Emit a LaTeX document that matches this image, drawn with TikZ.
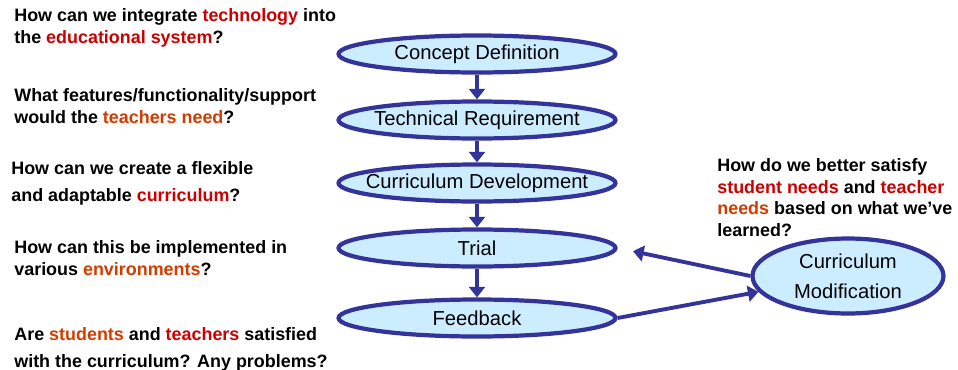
\documentclass[tikz,border=0pt]{standalone}
\usepackage{fontspec}
\setmainfont{Liberation Sans}
\usetikzlibrary{shapes.geometric, arrows.meta, positioning, calc}
\definecolor{stageblue}{RGB}{51, 51, 153}
\definecolor{stagefill}{RGB}{204, 236, 255}
\definecolor{hlred}{RGB}{204, 0, 0}
\definecolor{hlorange}{RGB}{210, 60, 0}
\newcommand{\stagelabel}[1]{\makebox[0pt]{#1}}

\begin{document}
\begin{tikzpicture}[x=0.02cm, y=-0.02cm,
  stage/.style={ellipse, draw=stageblue, line width=2.4pt, fill=stagefill,
    minimum width=5.54cm, minimum height=0.74cm, inner sep=0pt, font=\fontsize{11.5}{13}\selectfont},
  flow/.style={-{Triangle[length=6pt, width=9pt]}, draw=stageblue, line width=2.2pt},
  question/.style={anchor=north west, align=left, inner sep=0pt, font=\bfseries\fontsize{10.2}{12.4}\selectfont}]
  \useasboundingbox (0,0) rectangle (958,369);

  % Stages
  \node[stage] (concept) at (477, 54) {\stagelabel{Concept Definition}};
  \node[stage] (tech) at (477, 120) {\stagelabel{Technical Requirement}};
  \node[stage] (curric) at (477, 183) {\stagelabel{Curriculum Development}};
  \node[stage] (trial) at (477, 248) {\stagelabel{Trial}};
  \node[stage] (feedback) at (477, 318) {\stagelabel{Feedback}};
  \node[stage, minimum width=3.82cm, minimum height=1.5cm, align=center,
    font=\fontsize{11.5}{17}\selectfont] (modif) at (848, 276) {Curriculum\\Modification};

  \draw[flow] (concept) -- (tech);
  \draw[flow] (tech) -- (curric);
  \draw[flow] (curric) -- (trial);
  \draw[flow] (trial) -- (feedback);
  \draw[flow, shorten >=9pt] (modif.west) -- (trial.east);
  \draw[flow] (feedback.east) -- (modif.190);

  % Questions
  \node[question] (qconcept) at (14, 8) {How can we integrate \textcolor{hlred}{technology} into\\
    the \textcolor{hlred}{educational system}?};
  \node[question] (qtech) at (14, 88) {What features/functionality/support\\
    would the \textcolor{hlorange}{teachers need}?};
  \node[question] (qcurric) at (11, 161) {How can we create a flexible\\[3pt]
    and adaptable \textcolor{hlred}{curriculum}?};
  \node[question] (qtrial) at (14, 240) {How can this be implemented in\\
    various \textcolor{hlorange}{environments}?};
  \node[question] (qfeedback) at (14, 327) {Are \textcolor{hlorange}{students} and \textcolor{hlred}{teachers} satisfied\\[3pt]
    with the curriculum? Any problems?};
  \node[question] (qmodif) at (717, 158) {How do we better satisfy\\
    \textcolor{hlred}{student needs} and \textcolor{hlred}{teacher}\\
    \textcolor{hlorange}{needs} based on what we’ve\\
    learned?};
\end{tikzpicture}
\end{document}
